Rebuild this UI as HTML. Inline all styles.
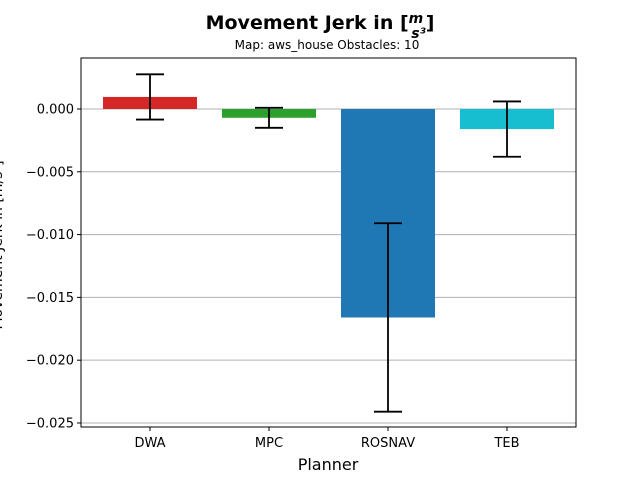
<!DOCTYPE html>
<html><head><meta charset="utf-8"><style>
body{margin:0;background:#fff}
svg{display:block;font-family:"DejaVu Sans","Liberation Sans",sans-serif}
</style></head><body>
<svg id="chart" width="640" height="480" viewBox="0 0 640 480">
<text x="320" y="29" text-anchor="middle" font-size="19" font-weight="bold">Movement Jerk in [<tspan font-size="14" font-style="italic" dy="-6">m</tspan><tspan font-size="14" font-style="italic" dx="-12" dy="15">s³</tspan><tspan dy="-9">]</tspan></text>
<text x="327" y="49" text-anchor="middle" font-size="12">Map: aws_house Obstacles: 10</text>
<text transform="translate(2,245) rotate(-90)" text-anchor="middle" font-size="14">Movement Jerk in [m/s³]</text>
<text x="328" y="470" text-anchor="middle" font-size="16">Planner</text>
<g id="grid"></g><g id="bars"></g><g id="errs"></g><g id="axes"></g>
<rect x="81" y="58" width="495" height="369" fill="none" stroke="#000" stroke-width="1"/>
</svg>
<script>
const categories=["DWA","MPC","ROSNAV","TEB"];
const values=[0.00096,-0.0007,-0.0166,-0.0016];
const errors=[0.0018,0.0008,0.0075,0.0022];
const colors=["#d62728","#2ca02c","#1f77b4","#17becf"];
const yTicks=[0,-0.005,-0.01,-0.015,-0.02,-0.025];
const yTickLabels=["0.000","−0.005","−0.010","−0.015","−0.020","−0.025"];
const NS="http://www.w3.org/2000/svg";
const L=81,R=576,T=58,B=427,yMax=0.00406,yMin=-0.02532;
function y(v){return T+(yMax-v)/(yMax-yMin)*(B-T);}
function mk(t,a,p){const e=document.createElementNS(NS,t);for(const k in a)e.setAttribute(k,a[k]);document.getElementById(p).appendChild(e);return e;}
yTicks.forEach((v,i)=>{
 const g=mk('line',{x1:L,x2:R,y1:y(v),y2:y(v),stroke:'#b0b0b0','stroke-width':1},'grid');
 
 
 const t=mk('line',{x1:L-4,x2:L,y1:y(v),y2:y(v),stroke:'#000'},'axes');
 
 
 const tx=mk('text',{x:L-7,y:y(v)+4.5,'text-anchor':'end','font-size':13},'axes');
 tx.textContent=yTickLabels[i];
 
 
});
const bw=94;
categories.forEach((c,i)=>{
 const cx=L+22+bw/2+i*119;
 const v=values[i];
 const b=mk('rect',{x:cx-bw/2,y:Math.min(y(v),y(0)),width:bw,height:Math.abs(y(v)-y(0)),fill:colors[i]},'bars');
 
 
 const hi=y(v+errors[i]),lo=y(v-errors[i]);
 const e=mk('path',{d:`M${cx},${hi}V${lo}M${cx-14},${hi}H${cx+14}M${cx-14},${lo}H${cx+14}`,stroke:'#000','stroke-width':1.8,fill:'none'},'errs');
 
 
 const t=mk('line',{x1:cx,x2:cx,y1:B,y2:B+4,stroke:'#000'},'axes');
 
 
 const tx=mk('text',{x:cx,y:B+20,'text-anchor':'middle','font-size':13},'axes');
 tx.textContent=c;
 
 
});
</script>
</body></html>
